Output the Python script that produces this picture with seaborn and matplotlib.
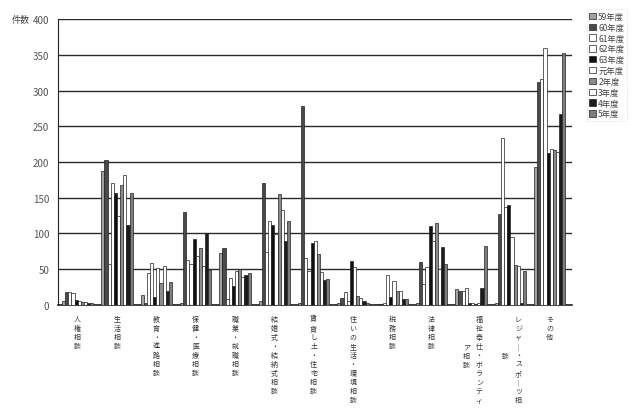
import matplotlib
matplotlib.use("Agg")
import matplotlib.pyplot as plt
import matplotlib.transforms as mtransforms
import pandas as pd
import seaborn as sns

sns.set_style("white")
plt.rcParams['font.family'] = ['Noto Sans CJK JP', 'DejaVu Sans']

categories = ["人権相談", "生活相談", "教育・進路相談", "保健・医療相談", "職業・就職相談",
              "結婚式・結納式相談", "賃貸し土・住宅相談", "住いの生活・環境相談", "税務相談",
              "法律相談", "福祉奉仕・ボランティア相談", "レジャー・スポーツ相談", "その他"]
years = ["59年度", "60年度", "61年度", "62年度", "63年度", "元年度", "2年度", "3年度", "4年度", "5年度"]

# values per year, in category order
y59 = [6, 188, 14, 2, 72, 5, 3, 3, 1, 3, 22, 2, 193]
y60 = [18, 203, 2, 130, 79, 171, 278, 10, 1, 60, 19, 127, 312]
y61 = [18, 57, 45, 63, 8, 74, 66, 18, 2, 29, 20, 233, 316]
y62 = [16, 171, 58, 57, 37, 118, 47, 5, 42, 53, 23, 137, 359]
y63 = [7, 156, 11, 92, 27, 112, 87, 62, 11, 110, 2, 140, 212]
y_gan = [5, 124, 52, 68, 48, 99, 90, 53, 33, 90, 3, 95, 218]
y2 = [4, 168, 31, 80, 50, 155, 71, 13, 19, 115, 1, 56, 217]
y3 = [4, 182, 54, 54, 39, 133, 46, 9, 20, 50, 2, 55, 214]
y4 = [3, 112, 19, 100, 42, 89, 35, 5, 8, 81, 23, 3, 267]
y5 = [3, 156, 32, 49, 44, 117, 36, 3, 8, 57, 82, 47, 353]
series = [y59, y60, y61, y62, y63, y_gan, y2, y3, y4, y5]

rows = []
for year, vals in zip(years, series):
    for cat, v in zip(categories, vals):
        rows.append({"区分": cat, "年度": year, "件数": v})
df = pd.DataFrame(rows)

palette = ["#a3a3a3", "#4a4a4a", "#ffffff", "#ffffff", "#111111",
           "#ffffff", "#8c8c8c", "#ffffff", "#1c1c1c", "#7d7d7d"]

fig, ax = plt.subplots(figsize=(6.4, 4.1), dpi=100)
fig.subplots_adjust(left=0.09, right=0.894, top=0.951, bottom=0.254)

sns.barplot(data=df, x="区分", y="件数", hue="年度", hue_order=years, order=categories,
            palette=palette, edgecolor="#222222", linewidth=0.5, width=0.8,
            saturation=1, ax=ax, zorder=3)

ax.set_ylim(0, 400)
ax.set_yticks(range(0, 401, 50))
ax.set_xlim(-0.51, 12.57)
ax.yaxis.grid(True, color="#2a2a2a", linewidth=1.0, zorder=0)
ax.set_axisbelow(True)
for s in ["top", "right"]:
    ax.spines[s].set_visible(False)
ax.spines["left"].set_color("#222222")
ax.spines["bottom"].set_color("#222222")
ax.spines["bottom"].set_linewidth(1.2)
ax.tick_params(axis="y", length=0, labelsize=7, labelcolor="#555555", pad=6)
ax.tick_params(axis="x", length=0, pad=7)
ax.set_xlabel("")
ax.set_ylabel("")
fig.text(0.018, 0.951, "件数", fontsize=6.5, color="#444444", va="center")

# vertical (tategaki) tick labels, 10 characters per column
per_col = 10
fs = 5
lsp = 1.18
line_pt = 8.3 * 0.72
cols_all = []
for cat in categories:
    t = cat.replace("ー", "｜")
    cols_all.append([t[i:i + per_col] for i in range(0, len(t), per_col)])
ax.set_xticks(range(len(categories)))
ax.set_xticklabels(["\n".join(c[0]) for c in cols_all], fontsize=fs, color="#333333",
                   va="top", ha="center", linespacing=lsp)
for i, (lab, cols) in enumerate(zip(ax.get_xticklabels(), cols_all)):
    if len(cols) > 1:
        lab.set_transform(lab.get_transform() +
                          mtransforms.ScaledTranslation(8 / 100, 0, fig.dpi_scale_trans))
        n = len(cols[0])
        tr = mtransforms.offset_copy(ax.get_xaxis_transform(), fig=fig,
                                     x=-3.5, y=-(7 + n * line_pt / 2), units="points")
        ax.text(i, 0, "\n".join(cols[1]), transform=tr, fontsize=fs, color="#333333",
                ha="center", va="center", linespacing=lsp)

leg = ax.legend(loc="upper left", bbox_to_anchor=(0.91, 0.985), bbox_transform=fig.transFigure,
                fontsize=6, frameon=True, handlelength=0.8, handleheight=0.8,
                handletextpad=0.3, labelspacing=0.22, borderpad=0.3, title=None)
leg.get_frame().set_edgecolor("#c8c8c8")
leg.get_frame().set_linestyle(":")
leg.get_frame().set_linewidth(0.6)
for t in leg.get_texts():
    t.set_color("#444444")

plt.savefig("out.png", dpi=100)
